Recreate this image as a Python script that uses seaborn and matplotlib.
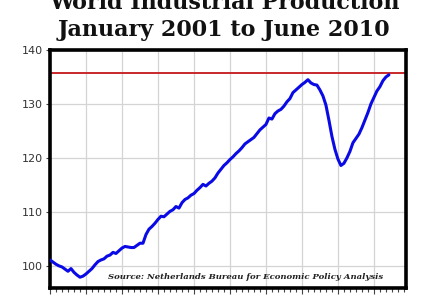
import numpy as np
import pandas as pd
import matplotlib
matplotlib.use("Agg")
import matplotlib.pyplot as plt
from matplotlib.ticker import MultipleLocator
import seaborn as sns

# Monthly index, Jan 2001 .. Jun 2010 (114 months)
production = [
    101.1, 100.7, 100.3, 100.0, 99.8, 99.4, 99.0, 99.5, 98.8, 98.3, 97.9, 98.1,
    98.5, 99.0, 99.5, 100.2, 100.8, 101.1, 101.3, 101.8, 102.0, 102.5, 102.3, 102.8,
    103.3, 103.6, 103.5, 103.4, 103.4, 103.8, 104.2, 104.2, 105.8, 106.8, 107.3, 107.9,
    108.6, 109.2, 109.1, 109.6, 110.1, 110.4, 111.0, 110.7, 111.7, 112.3, 112.6, 113.1,
    113.4, 114.0, 114.5, 115.1, 114.8, 115.3, 115.7, 116.3, 117.2, 117.9, 118.6, 119.1,
    119.7, 120.2, 120.8, 121.3, 121.9, 122.6, 123.0, 123.4, 123.8, 124.5, 125.2, 125.7,
    126.2, 127.4, 127.2, 128.2, 128.7, 129.0, 129.6, 130.4, 131.0, 132.1, 132.6, 133.1,
    133.6, 134.0, 134.5, 133.9, 133.6, 133.5, 132.6, 131.5, 129.8, 127.0, 124.0, 121.6,
    119.8, 118.6, 119.0, 120.0, 121.2, 122.8, 123.6, 124.4, 125.6, 127.0, 128.4, 130.0,
    131.2, 132.4, 133.2, 134.3, 135.0, 135.4,
]
months = list(range(len(production)))
previous_peak = 135.7
y_ticks = [100, 110, 120, 130, 140]
title_lines = ["World Industrial Production", "January 2001 to June 2010"]
source_text = "Source: Netherlands Bureau for Economic Policy Analysis"

df = pd.DataFrame({"month": months, "production": production})

sns.set_theme(style="white")
fig = plt.figure(figsize=(4.4, 3.0), dpi=100)
ax = fig.add_axes([50/440, 1-288/300, 356/440, 238/300])

ax.axhline(previous_peak, color="#c8282a", lw=1.4, zorder=2)
sns.lineplot(data=df, x="month", y="production", ax=ax, color="#0a0ae6",
             lw=2.2, zorder=3)

ax.set_xlim(0, 118.7)
ax.set_ylim(95.9, 140)
ax.set_yticks(y_ticks)
ax.set_yticklabels([str(t) for t in y_ticks], fontsize=8, color="#333333",
                   family="DejaVu Sans")
ax.xaxis.set_major_locator(MultipleLocator(12))
ax.xaxis.set_minor_locator(MultipleLocator(2))
ax.set_xticklabels([])
ax.tick_params(axis="x", which="major", direction="out", length=4, width=0.8,
               color="#444444", bottom=True)
ax.tick_params(axis="x", which="minor", direction="out", length=3, width=0.8,
               color="#444444", bottom=True)
ax.tick_params(axis="y", which="major", direction="out", length=3, width=0.8,
               color="#444444", left=True, pad=2)
ax.set_xlabel("")
ax.set_ylabel("")
ax.grid(True, which="major", color="#d4d4d4", lw=0.9)
for s in ax.spines.values():
    s.set_visible(True)
    s.set_color("black")
    s.set_linewidth(2.6)

ax.text(0.163, 0.03, source_text, transform=ax.transAxes, fontsize=6.1,
        fontweight="bold", fontstyle="italic", family="DejaVu Serif",
        color="#222222", ha="left", va="bottom")

fig.text(0.51, 1.0 - 3/300, title_lines[0], ha="center", va="center",
         fontsize=16, fontweight="bold", family="DejaVu Serif", color="#111111")
fig.text(0.51, 1.0 - 30/300, title_lines[1], ha="center", va="center",
         fontsize=16, fontweight="bold", family="DejaVu Serif", color="#111111")

fig.savefig("out.png", dpi=100)
